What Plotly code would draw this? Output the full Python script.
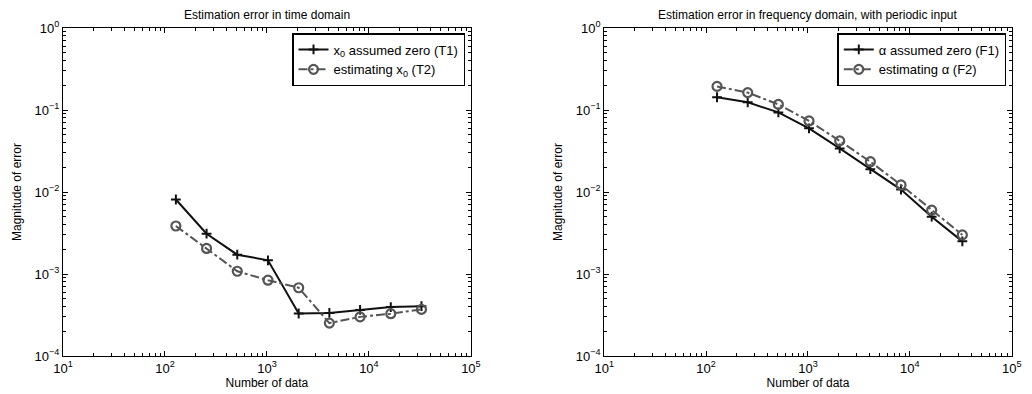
import plotly.graph_objects as go

N = [128, 256, 512, 1024, 2048, 4096, 8192, 16384, 32768]
T1 = [8.1e-3, 3.1e-3, 1.72e-3, 1.47e-3, 3.3e-4, 3.35e-4, 3.65e-4, 3.95e-4, 4.05e-4]
T2 = [3.85e-3, 2.05e-3, 1.08e-3, 8.4e-4, 6.8e-4, 2.52e-4, 3.0e-4, 3.28e-4, 3.7e-4]
F1 = [0.143, 0.124, 0.0935, 0.0597, 0.034, 0.019, 0.0107, 5.0e-3, 2.5e-3]
F2 = [0.194, 0.163, 0.117, 0.0735, 0.042, 0.0234, 0.0122, 6.0e-3, 3.0e-3]

x_exps = [1, 2, 3, 4, 5]
y_exps = [-4, -3, -2, -1, 0]

names_left = ["x<sub>0</sub> assumed zero (T1)", "estimating x<sub>0</sub> (T2)"]
names_right = ["\u03b1 assumed zero (F1)", "estimating \u03b1 (F2)"]
titles = ["Estimation error in time domain",
          "Estimation error in frequency domain, with periodic input"]

FONT = "Liberation Sans, Arial, sans-serif"
W, H = 1032, 394
dom1 = [54 / W, 470 / W]
dom2 = [606 / W, 1021.5 / W]

def pow_label(e):
    return "10<sup>%s</sup>" % ("\u2212%d" % -e if e < 0 else "%d" % e)

def minors(exps):
    vals = []
    for e in exps[:-1]:
        for m in range(2, 10):
            vals.append(m * 10.0 ** e)
    return vals

fig = go.Figure()

def solid(x, y, name, xa, ya, leg):
    return go.Scatter(x=x, y=y, name=name, mode="lines+markers", xaxis=xa, yaxis=ya,
                      legend=leg,
                      line=dict(color="#111111", width=2),
                      marker=dict(symbol="cross-thin", size=7, color="#111111",
                                  line=dict(color="#111111", width=2)))

def dashed(x, y, name, xa, ya, leg):
    return go.Scatter(x=x, y=y, name=name, mode="lines+markers", xaxis=xa, yaxis=ya,
                      legend=leg,
                      line=dict(color="#555555", width=2, dash="dashdot"),
                      marker=dict(symbol="circle-open", size=9, color="#555555",
                                  line=dict(color="#555555", width=2.2)))

fig.add_trace(solid(N, T1, names_left[0], "x", "y", "legend"))
fig.add_trace(dashed(N, T2, names_left[1], "x", "y", "legend"))
fig.add_trace(solid(N, F1, names_right[0], "x2", "y2", "legend2"))
fig.add_trace(dashed(N, F2, names_right[1], "x2", "y2", "legend2"))

ax_common = dict(type="log", showgrid=False, zeroline=False, showline=True,
                 linecolor="black", linewidth=1, mirror="allticks",
                 ticks="inside", ticklen=5, tickcolor="black",
                 tickfont=dict(family=FONT, size=13, color="black"))

TF = dict(family=FONT, size=12, color="black")

xax = dict(ax_common, range=[1, 5],
           tickvals=[10.0 ** e for e in x_exps], ticktext=[pow_label(e) for e in x_exps],
           minor=dict(tickvals=minors(x_exps), ticks="inside", ticklen=3,
                      tickcolor="black", showgrid=False),
           title=dict(text="Number of data", font=TF, standoff=2))
yax = dict(ax_common, range=[-4, 0],
           tickvals=[10.0 ** e for e in y_exps], ticktext=[pow_label(e) for e in y_exps],
           minor=dict(tickvals=minors(y_exps), ticks="inside", ticklen=3,
                      tickcolor="black", showgrid=False),
           title=dict(text="Magnitude of error", font=TF, standoff=10))

leg_common = dict(y=1 - 5 / 328, yanchor="top", xanchor="right",
                  bordercolor="black", borderwidth=1.5, bgcolor="white",
                  font=dict(family=FONT, size=13, color="black"),
                  tracegroupgap=0, itemwidth=30)

fig.update_layout(
    width=W, height=H,
    margin=dict(l=0, r=0, t=28, b=38),
    paper_bgcolor="white", plot_bgcolor="white",
    font=dict(family=FONT, size=12, color="black"),
    xaxis=dict(xax, domain=dom1, anchor="y"),
    yaxis=dict(yax, domain=[0, 1], anchor="x"),
    xaxis2=dict(xax, domain=dom2, anchor="y2"),
    yaxis2=dict(yax, domain=[0, 1], anchor="x2"),
    legend=dict(leg_common, x=464 / W),
    legend2=dict(leg_common, x=1016 / W),
    annotations=[
        dict(text=titles[0], x=(dom1[0] + dom1[1]) / 2, y=1, xref="paper", yref="paper",
             xanchor="center", yanchor="bottom", yshift=4, showarrow=False, font=TF),
        dict(text=titles[1], x=(dom2[0] + dom2[1]) / 2, y=1, xref="paper", yref="paper",
             xanchor="center", yanchor="bottom", yshift=4, showarrow=False, font=TF),
    ],
)

fig.write_html("out.html")
